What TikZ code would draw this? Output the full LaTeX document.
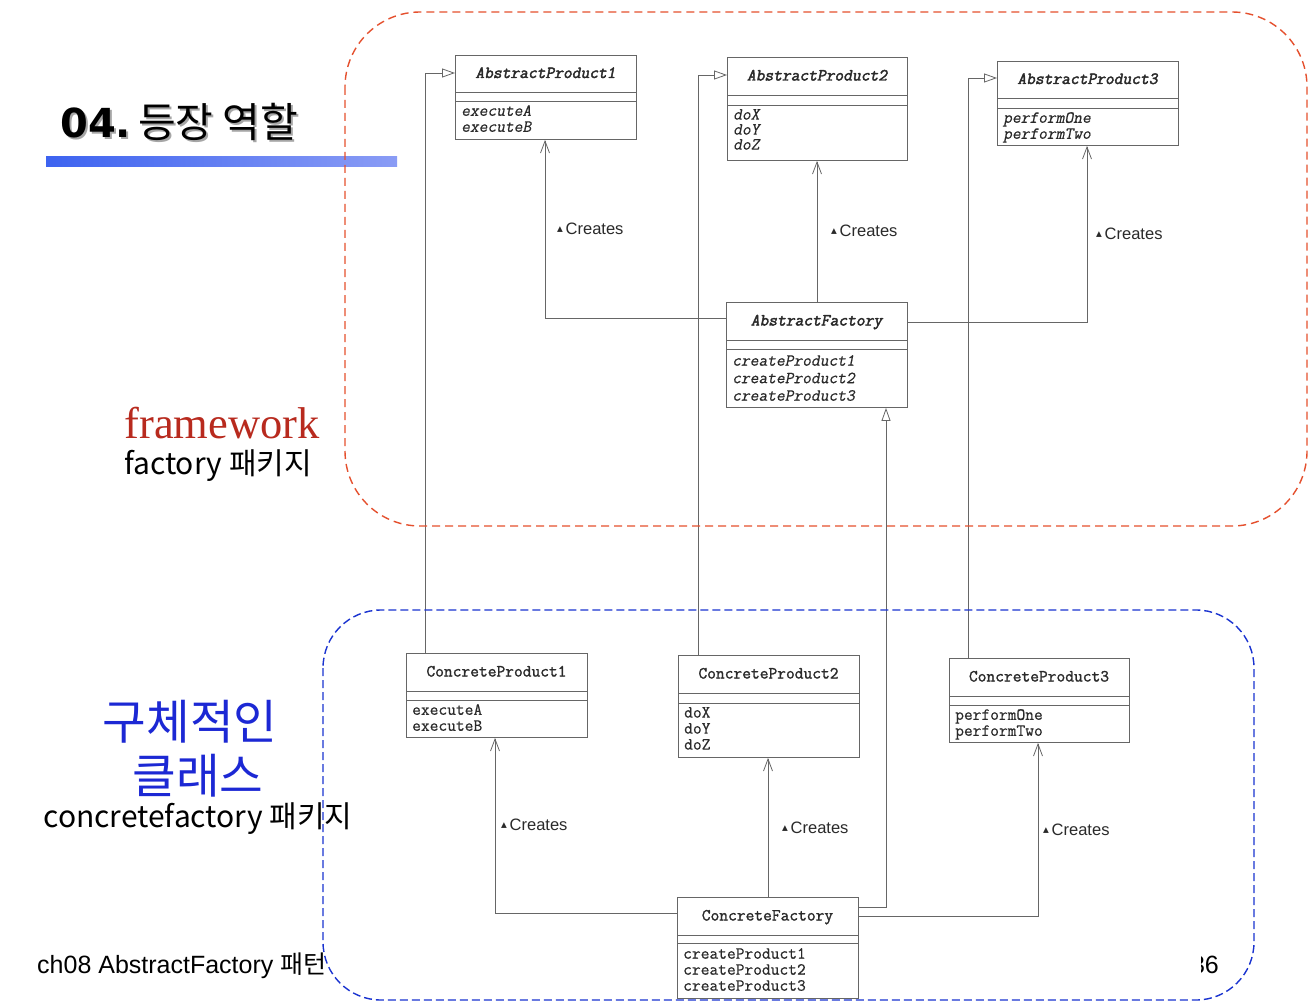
\documentclass[tikz,border=0pt]{standalone}
\usepackage{fontspec}
\setmainfont{Liberation Sans}
\newfontfamily\kr{Noto Sans CJK KR}
\newfontfamily\umlmono{Latin Modern Mono}[
  UprightFeatures={FakeBold=0.6},
  ItalicFont={Latin Modern Mono}, ItalicFeatures={FakeSlant=0.2, FakeBold=0.6},
  BoldFont={Latin Modern Mono}, BoldFeatures={FakeBold=2.5},
  BoldItalicFont={Latin Modern Mono}, BoldItalicFeatures={FakeSlant=0.2, FakeBold=2.5}]
\newfontfamily\umlmonomed{Latin Modern Mono}[FakeBold=1.4]
\newfontfamily\serifrm{Liberation Serif}
\newfontfamily\dvs{DejaVu Sans}
\usetikzlibrary{arrows.meta}
\definecolor{linec}{HTML}{666666}
\definecolor{textc}{HTML}{2A2A2A}
\definecolor{fwred}{HTML}{B82A1E}
\definecolor{kblue}{HTML}{1C28D4}
\definecolor{boxred}{HTML}{E5502E}
\definecolor{boxblue}{HTML}{1A33D0}
\definecolor{barL}{HTML}{3D63F0}
\definecolor{barR}{HTML}{8A9CF5}
\newcommand\umlbox[9]{%
  \node[umlframe, minimum width={#3-#2}, minimum height={#7-#4}, anchor=north west] (#1) at (#2,#4) {};
  \draw[umlline] (#2,#5) -- (#3,#5) (#2,#6) -- (#3,#6);
  \node[umltitle] (#1-t) at ({(#2+#3)/2},{(#4+#5)/2}) {#8};
  \node[umlmeth, anchor=north west] (#1-m) at (#2,#6) {#9};
}
\newcommand\tri{\raisebox{3pt}{\dvs\fontsize{7.5}{8}\selectfont ▲}}
\begin{document}
\begin{tikzpicture}[x=1pt,y=-1pt,
  umlframe/.style={draw=linec, line width=0.9pt, inner sep=0pt, fill=white},
  umlline/.style={draw=linec, line width=0.9pt},
  umltitle/.style={text=textc, font=\umlmono\fontsize{17}{16}\selectfont, inner sep=0pt, text height=9pt, text depth=0pt},
  umlmeth/.style={text=textc, font=\umlmono\fontsize{17}{16}\selectfont, align=left, inner xsep=6pt, inner ysep=4pt},
  conn/.style={draw=linec, line width=0.8pt},
  inh/.style={conn, -{Triangle[open, length=13pt, width=9pt]}},
  cre/.style={conn, -{Straight Barb[length=12pt, width=9pt]}},
  crelabel/.style={anchor=west, inner sep=0pt, text=textc, font=\fontsize{16.5}{18}\selectfont},
  sidetext/.style={anchor=base, inner sep=0pt},
]
\useasboundingbox (0,0) rectangle (1316,1008);
\fill[white] (0,0) rectangle (1316,1008);

% footer (partly hidden behind the diagram image)
\node[anchor=base west, inner sep=0pt, font=\fontsize{25}{28}\selectfont] (footer) at (37,973) {ch08 AbstractFactory {\kr 패턴}};
\node[anchor=base east, inner sep=0pt, font=\fontsize{25}{28}\selectfont] (page) at (1219,973) {36};
\fill[white] (327,925) rectangle (1201,1003);

% title
\node[anchor=base west, inner sep=0pt, text=black!35, font=\fontsize{40}{44}\selectfont] (titleshadow) at (62,140) {{\dvs\bfseries 04.}\hspace{7pt}{\kr\fontsize{41}{44}\selectfont 등장 역할}};
\node[anchor=base west, inner sep=0pt, font=\fontsize{40}{44}\selectfont] (title) at (60,138) {{\dvs\bfseries 04.}\hspace{7pt}{\kr\fontsize{41}{44}\selectfont 등장 역할}};
\shade[left color=barL, right color=barR] (46,157) rectangle (397,167);

% side texts
\node[sidetext, text=fwred, font=\serifrm\fontsize{44.5}{48}\selectfont] (fw) at (222,438) {framework};
\node[sidetext, font=\kr\fontsize{30}{32}\selectfont] (fwpkg) at (218,474) {factory 패키지};
\node[sidetext, text=kblue, font=\kr\fontsize{47.5}{50}\selectfont] (k1) at (190,739) {구체적인};
\node[sidetext, text=kblue, font=\kr\fontsize{47.5}{50}\selectfont] (k2) at (198,793) {클래스};
\node[sidetext, font=\kr\fontsize{30}{32}\selectfont] (cfpkg) at (198,827) {concretefactory 패키지};

% classes
\umlbox{AP1}{455}{636}{55}{92}{101}{139}{\bfseries\itshape AbstractProduct1}{\itshape executeA\\ \itshape executeB}
\umlbox{AP2}{727}{907}{57}{95}{105}{160}{\bfseries\itshape AbstractProduct2}{\itshape doX\\[-1pt] \itshape doY\\[-1pt] \itshape doZ}
\umlbox{AP3}{997}{1178}{61}{98}{108}{145}{\bfseries\itshape AbstractProduct3}{\itshape performOne\\ \itshape performTwo}
\umlbox{AF}{726}{907}{302}{340}{349}{407}{\bfseries\itshape AbstractFactory}{\rule{0pt}{12.5pt}\itshape createProduct1\\[1.5pt] \itshape createProduct2\\[1.5pt] \itshape createProduct3}
\umlbox{CP1}{406}{587}{653}{691}{700}{737}{\umlmonomed ConcreteProduct1}{executeA\\ executeB}
\umlbox{CP2}{678}{859}{655}{693}{703}{757}{\umlmonomed ConcreteProduct2}{doX\\ doY\\ doZ}
\umlbox{CP3}{949}{1129}{658}{696}{705}{742}{\umlmonomed ConcreteProduct3}{performOne\\ performTwo}
\umlbox{CF}{677}{858}{897}{935}{943}{998}{\umlmonomed ConcreteFactory}{\rule{0pt}{11.5pt}createProduct1\\ createProduct2\\ createProduct3}

% inheritance connectors
\coordinate (b1) at (425,73);
\coordinate (b2) at (698,75);
\coordinate (b3) at (968,78);
\coordinate (g) at (886,907);
\draw[inh] (b1 |- CP1.north) -- (b1) -- (AP1.west |- b1);
\draw[inh] (b2 |- CP2.north) -- (b2) -- (AP2.west |- b2);
\draw[inh] (b3 |- CP3.north) -- (b3) -- (AP3.west |- b3);
\draw[inh] (CF.east |- g) -- (g) -- (g |- AF.south);

% creates connectors
\coordinate (c1) at (545,318);
\coordinate (c2) at (817,0);
\coordinate (c3) at (1087,322);
\coordinate (d1) at (495,913);
\coordinate (d2) at (768,0);
\coordinate (d3) at (1038,916);
\draw[cre] (AF.west |- c1) -- (c1) -- (c1 |- AP1.south);
\draw[cre] (c2 |- AF.north) -- (c2 |- AP2.south);
\draw[cre] (AF.east |- c3) -- (c3) -- (c3 |- AP3.south);
\draw[cre] (CF.west |- d1) -- (d1) -- (d1 |- CP1.south);
\draw[cre] (d2 |- CF.north) -- (d2 |- CP2.south);
\draw[cre] (CF.east |- d3) -- (d3) -- (d3 |- CP3.south);

\node[crelabel] (l1) at (557,229) {\tri\,Creates};
\node[crelabel] (l2) at (831,231) {\tri\,Creates};
\node[crelabel] (l3) at (1096,234) {\tri\,Creates};
\node[crelabel] (l4) at (501,825) {\tri\,Creates};
\node[crelabel] (l5) at (782,828) {\tri\,Creates};
\node[crelabel] (l6) at (1043,830) {\tri\,Creates};

% package outlines
\draw[boxred, line width=1.4pt, dash pattern=on 8pt off 5pt, rounded corners=75pt] (345,12) rectangle (1307,526);
\draw[boxblue, line width=1.4pt, dash pattern=on 8pt off 4pt, rounded corners=58pt] (323,610) rectangle (1254,1000);
\end{tikzpicture}
\end{document}
